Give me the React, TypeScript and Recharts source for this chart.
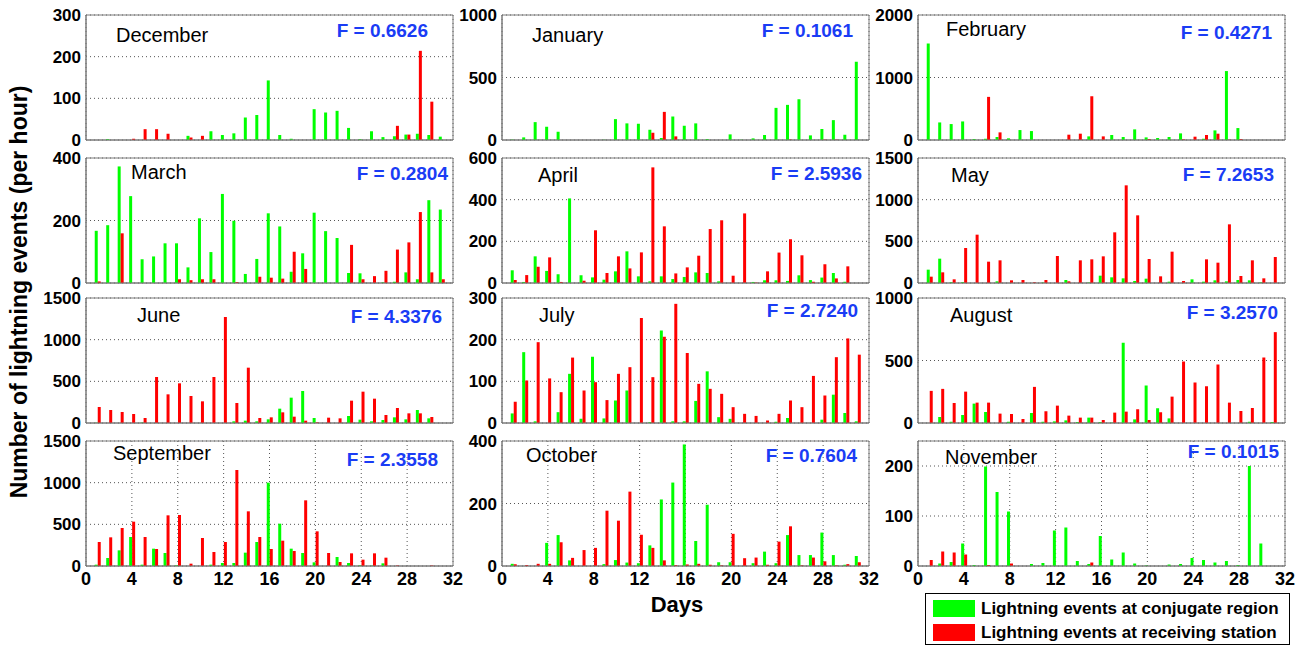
import React from 'react';
import { BarChart, Bar, XAxis, YAxis, CartesianGrid, ReferenceArea } from 'recharts';

const days = [1,2,3,4,5,6,7,8,9,10,11,12,13,14,15,16,17,18,19,20,21,22,23,24,25,26,27,28,29,30,31];
const dayTicks = [0,4,8,12,16,20,24,28,32];

const decGreen = [0,2,0,0,0,0,0,0,10,0,21,12,16,54,60,143,12,3,0,74,66,70,29,2,21,7,9,13,15,12,8];
const decRed = [0,0,0,3,26,26,15,0,6,10,0,0,0,0,0,0,0,0,0,0,0,0,0,0,0,0,34,13,214,92,0];
const janGreen = [3,21,143,106,66,0,0,0,2,167,133,130,82,16,188,114,133,8,0,45,2,13,40,257,281,326,37,88,159,42,626];
const janRed = [0,0,0,0,0,0,0,0,0,0,0,0,58,225,29,0,0,0,0,0,0,0,0,0,3,0,0,3,3,0,0];
const febGreen = [1544,281,255,297,16,20,48,27,159,143,0,0,0,0,58,0,80,48,170,42,32,48,106,0,20,154,1103,191,0];
const febRed = [0,0,0,0,0,690,122,0,0,0,0,0,85,101,700,58,0,0,0,15,0,0,10,53,80,101,5,15,0];
const marGreen = [167,185,373,278,76,85,127,127,50,207,99,285,199,29,77,223,181,36,95,225,166,144,32,31,0,2,4,34,12,265,235];
const marRed = [5,0,159,0,0,0,0,12,9,12,12,0,3,0,20,17,14,100,45,0,0,0,122,12,22,39,107,130,227,34,12];
const aprGreen = [61,5,128,58,42,406,37,27,16,56,152,32,8,32,19,29,51,48,8,0,0,5,13,13,10,37,14,26,48,6];
const aprRed = [14,38,78,123,5,0,11,253,48,128,70,147,555,272,46,75,131,259,301,35,334,2,56,146,210,133,6,90,22,80];
const mayGreen = [160,292,10,10,0,0,20,0,0,0,5,0,36,0,6,88,68,56,24,52,0,16,0,44,16,32,20,36,32,8,0];
const mayRed = [76,128,44,420,580,256,272,32,36,8,36,324,20,272,284,320,608,1172,812,288,80,376,24,0,284,244,704,84,272,56,312];
const junGreen = [3,0,0,0,5,0,0,0,0,0,0,0,20,28,20,44,172,304,384,60,0,0,84,40,20,36,68,44,156,56];
const junRed = [192,156,132,108,60,552,344,476,324,260,552,1272,240,664,60,68,128,76,28,8,64,56,268,376,292,96,180,116,116,72];
const julGreen = [23,170,4,0,26,118,10,159,11,54,78,0,2,222,4,4,53,124,14,10,0,0,0,3,12,0,0,8,68,24,4];
const julRed = [51,102,194,107,74,157,78,98,55,118,134,252,110,207,286,168,94,82,70,38,22,17,6,22,54,38,113,66,158,203,164];
const augGreen = [0,48,10,64,155,88,0,10,0,80,10,13,21,8,43,8,3,642,29,300,118,37,0,0,0,0,0,0,10,0,8];
const augRed = [257,273,160,251,163,163,75,72,32,289,94,139,59,43,43,24,83,91,110,24,86,211,492,324,294,468,163,96,120,524,727];
const sepGreen = [16,96,188,348,16,208,156,8,0,0,16,36,36,160,288,1000,508,208,156,44,0,108,36,8,4,32,0,0,0,0];
const sepRed = [288,344,456,532,348,204,608,612,28,336,168,288,1152,656,348,204,304,180,788,416,156,48,152,76,152,100,6,0,0,6];
const octGreen = [7,0,0,74,99,18,0,0,6,19,11,9,66,213,267,389,80,196,12,12,0,9,46,9,99,35,35,107,35,4,32];
const octRed = [6,3,7,7,76,26,51,58,177,145,238,100,58,18,3,5,7,4,2,103,25,27,4,78,127,2,27,15,2,6,12];
const novGreen = [0,5,8,45,2,199,148,109,0,4,6,71,77,10,4,60,13,27,5,1,0,3,4,16,12,7,10,2,200,45];
const novRed = [12,29,27,23,0,2,0,5,0,0,0,0,0,0,7,0,0,0,0,0,0,0,0,0,0,0,0,0,0,0];

const monthNames = ['December','January','February','March','April','May','June','July','August','September','October','November'];
const fValues = ['0.6626','0.1061','0.4271','0.2804','2.5936','7.2653','4.3376','2.7240','3.2570','2.3558','0.7604','0.1015'];
const yMaxes = [300,1000,2000,400,600,1500,1500,300,1000,1500,400,250];
const yTickSets = [
  [0,100,200,300],[0,500,1000],[0,1000,2000],
  [0,200,400],[0,200,400,600],[0,500,1000,1500],
  [0,500,1000,1500],[0,100,200,300],[0,500,1000],
  [0,500,1000,1500],[0,200,400],[0,100,200],
];
const greens = [decGreen,janGreen,febGreen,marGreen,aprGreen,mayGreen,junGreen,julGreen,augGreen,sepGreen,octGreen,novGreen];
const reds = [decRed,janRed,febRed,marRed,aprRed,mayRed,junRed,julRed,augRed,sepRed,octRed,novRed];

const COL_X = [86, 502, 918];
const ROW_Y = [15, 158, 298, 441];
const PLOT_W = 367;
const PLOT_H = 125;
const YW = 50;
const MT = 12;
const MR = 16;
const MB = 10;

// month label: [x, baseline]; F label: [right x, baseline]
const monthPos = [[116,42],[532,42],[946,36],[131,179],[538,182],[951,182],[137,322],[539,322],[950,322],[113,460],[526,462],[945,464]];
const fPos = [[428,37],[853,37],[1272,39],[448,180],[862,180],[1274,181],[442,323],[858,317],[1278,319],[438,466],[857,462],[1279,458]];

const GREEN = '#00ff00';
const RED = '#ff0000';
const BOX = '#7a7a7a';
const FONT = '"Liberation Sans", Arial, sans-serif';

function Panel({ idx }: { idx: number }) {
  const col = idx % 3;
  const row = Math.floor(idx / 3);
  const bottom = row === 3;
  const g = greens[idx];
  const r = reds[idx];
  const data = g.map((v, i) => ({ day: days[i], g: v, r: r[i] }));
  const xH = bottom ? 30 : 1;
  const w = YW + PLOT_W + MR;
  const h = MT + PLOT_H + xH + MB;
  return (
    <div style={{ position: 'absolute', left: COL_X[col] - YW, top: ROW_Y[row] - MT }}>
      <BarChart width={w} height={h} data={data} margin={{ top: MT, right: MR, left: 0, bottom: MB }} barGap={0}>
        <CartesianGrid stroke="#555" strokeDasharray="1 3" strokeWidth={1} />
        <XAxis
          type="number"
          dataKey="day"
          domain={[0, 32]}
          ticks={dayTicks}
          interval={0}
          allowDataOverflow
          axisLine={{ stroke: BOX }}
          tickLine={false}
          tickSize={3}
          tickMargin={3}
          height={xH}
          tick={bottom ? { fontSize: 18, fontWeight: 'bold', fill: '#000', fontFamily: FONT } : false}
        />
        <YAxis
          type="number"
          domain={[0, yMaxes[idx]]}
          ticks={yTickSets[idx]}
          interval={0}
          allowDataOverflow
          width={YW}
          axisLine={{ stroke: BOX }}
          tickLine={false}
          tickSize={3}
          tickMargin={2}
          tick={{ fontSize: 17, fontWeight: 'bold', fill: '#000', fontFamily: FONT }}
        />
        <Bar dataKey="g" fill={GREEN} barSize={3} isAnimationActive={false} />
        <Bar dataKey="r" fill={RED} barSize={3} isAnimationActive={false} />
        <ReferenceArea x1={0} x2={32} y1={0} y2={yMaxes[idx]} fill="none" fillOpacity={0} stroke={BOX} strokeWidth={1} ifOverflow="visible" />
      </BarChart>
    </div>
  );
}

export default function App() {
  const idxs = [0,1,2,3,4,5,6,7,8,9,10,11];
  return (
    <div style={{ position: 'absolute', left: 0, top: 0, width: 1300, height: 647, background: '#fff', fontFamily: FONT, overflow: 'hidden' }}>
      {idxs.map((i) => <Panel key={i} idx={i} />)}
      <svg width={1300} height={647} style={{ position: 'absolute', left: 0, top: 0, pointerEvents: 'none' }}>
        {idxs.map((i) => (
          <text key={'m' + i} x={monthPos[i][0]} y={monthPos[i][1]} fontSize={20} fontFamily={FONT} fill="#000">{monthNames[i]}</text>
        ))}
        {idxs.map((i) => (
          <text key={'f' + i} x={fPos[i][0]} y={fPos[i][1]} textAnchor="end" fontSize={19} fontWeight="bold" fontFamily={FONT} fill="#1a3cf5">{'F = ' + fValues[i]}</text>
        ))}
        <text x={0} y={0} transform="translate(27,292) rotate(-90)" textAnchor="middle" fontSize={23} fontWeight="bold" fontFamily={FONT} fill="#000">Number of lightning events (per hour)</text>
        <text x={677} y={612} textAnchor="middle" fontSize={22} fontWeight="bold" fontFamily={FONT} fill="#000">Days</text>
        <rect x={925.5} y={593.5} width={364} height={51} fill="#fff" stroke="#000" strokeWidth={1} />
        <rect x={933} y={600} width={42} height={17} fill={GREEN} />
        <rect x={933} y={624} width={42} height={17} fill={RED} />
        <text x={981} y={614} fontSize={17} fontWeight="bold" fontFamily={FONT} fill="#000">Lightning events at conjugate region</text>
        <text x={981} y={638} fontSize={17} fontWeight="bold" fontFamily={FONT} fill="#000">Lightning events at receiving station</text>
      </svg>
    </div>
  );
}
